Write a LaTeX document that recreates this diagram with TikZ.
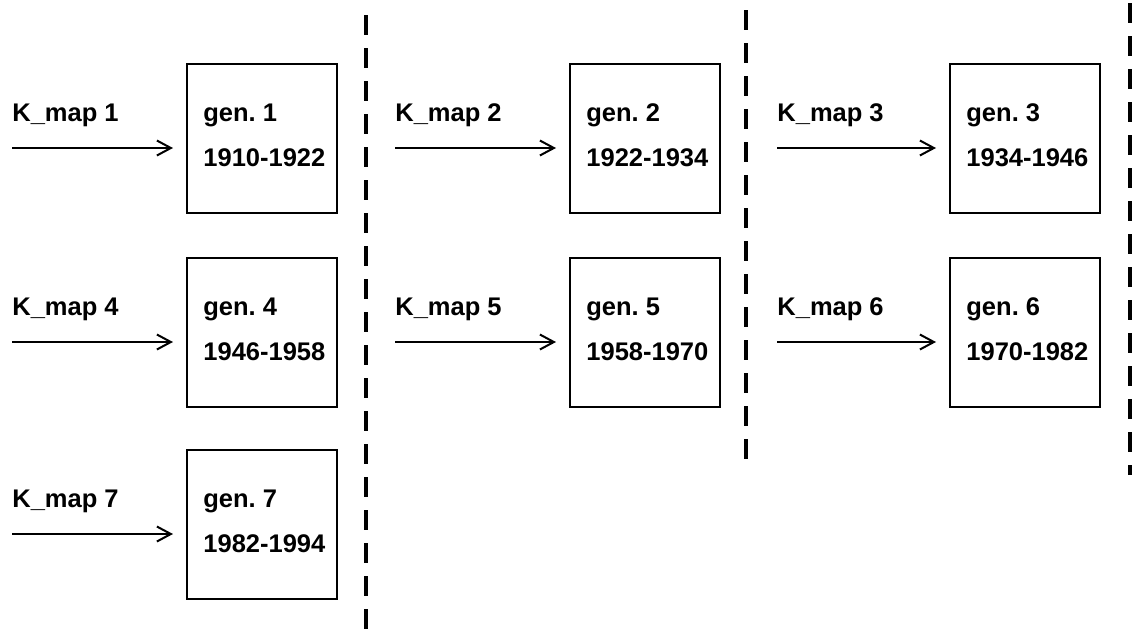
\documentclass[tikz,border=0pt]{standalone}
\usepackage{fontspec}
\setmainfont{Liberation Sans}
\usetikzlibrary{arrows.meta}
\frenchspacing
\begin{document}
\begin{tikzpicture}[x=0.5pt,y=-0.5pt,
  genbox/.style={draw, line width=1.25pt, minimum width=75pt, minimum height=74.5pt, inner sep=0pt, outer sep=0pt, anchor=north west},
  txt/.style={inner sep=0pt, anchor=base west, font=\fontsize{12.75pt}{15pt}\selectfont\bfseries},
  arr/.style={line width=1pt, -{Straight Barb[length=7pt,width=7.5pt,line width=1pt]}, shorten >=7pt},
  sep/.style={line width=1.6pt, dash pattern=on 10pt off 6.5pt}]
\useasboundingbox (0,0) rectangle (1134,632);
\foreach \i/\bx/\ax/\tp/\d in {1/187/12/64/1910-1922, 2/570/395/64/1922-1934, 3/950/777/64/1934-1946, 4/187/12/258/1946-1958, 5/570/395/258/1958-1970, 6/950/777/258/1970-1982, 7/187/12/450/1982-1994}{
  \node[genbox] (g\i) at (\bx,\tp) {};
  \node[txt] (n\i) at ({\bx+16},{\tp+57}) {gen. \i};
  \node[txt] (d\i) at ({\bx+16},{\tp+102}) {\d};
  \node[txt] (k\i) at ({\ax},{\tp+57}) {K\_map \i};
  \coordinate (s\i) at ({\ax},{\tp+84});
  \draw[arr] (s\i) -- (g\i.west |- s\i);
}
\coordinate (a1) at (366,15); \coordinate (b1) at (366,632);
\coordinate (a2) at (746,10); \coordinate (b2) at (746,465);
\coordinate (a3) at (1130,3); \coordinate (b3) at (1130,475);
\draw[sep] (a1) -- (b1);
\draw[sep] (a2) -- (b2);
\draw[sep] (a3) -- (b3);
\end{tikzpicture}
\end{document}
